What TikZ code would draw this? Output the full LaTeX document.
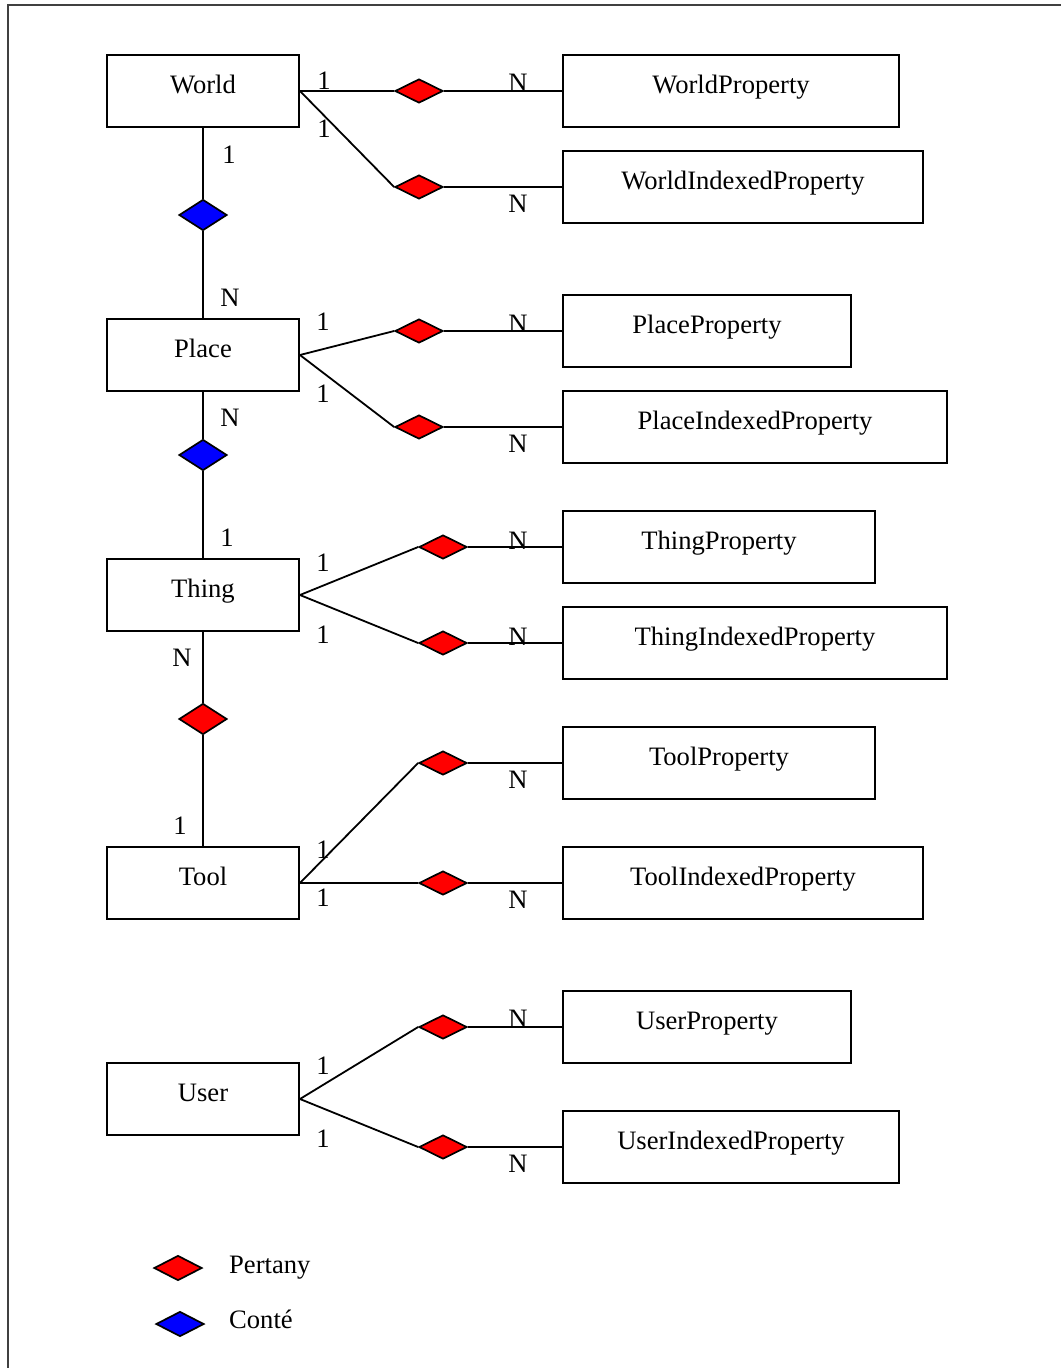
\documentclass[tikz,border=0pt]{standalone}
\usepackage{fontspec}
\setmainfont{Liberation Serif}
\usetikzlibrary{shapes.geometric}

\definecolor{relred}{RGB}{255,0,0}
\definecolor{relblue}{RGB}{0,0,255}

\tikzset{
  entity/.style={draw, line width=1.9pt, rectangle, inner sep=0pt,
    minimum height=72pt, text height=18pt, text depth=14pt,
    font=\fontsize{26.6}{30}\selectfont},
  belongs/.style={draw, line width=1.7pt, diamond, fill=relred, inner sep=0pt,
    minimum width=48pt, minimum height=24pt},
  contains/.style={draw, line width=1.7pt, diamond, fill=relblue, inner sep=0pt,
    minimum width=48pt, minimum height=31pt},
  tallbelongs/.style={belongs, minimum height=31pt},
  card/.style={anchor=base, inner sep=0pt, font=\fontsize{26.6}{30}\selectfont},
  legendtext/.style={anchor=base west, inner sep=0pt, font=\fontsize{26.6}{30}\selectfont},
  link/.style={line width=1.8pt},
}

\begin{document}
\begin{tikzpicture}[x=1pt, y=-1pt]
\useasboundingbox (0,0) rectangle (1061,1368);

% page frame
\draw[line width=2pt, black!75] (8,1368) -- (8,5) -- (1061,5);

% ---------- entities ----------
\node[entity, minimum width=192pt] (world) at (203,91) {World};
\node[entity, minimum width=336pt] (wprop) at (731,91) {WorldProperty};
\node[entity, minimum width=360pt] (wiprop) at (743,187) {WorldIndexedProperty};

\node[entity, minimum width=192pt] (place) at (203,355) {Place};
\node[entity, minimum width=288pt] (pprop) at (707,331) {PlaceProperty};
\node[entity, minimum width=384pt] (piprop) at (755,427) {PlaceIndexedProperty};

\node[entity, minimum width=192pt] (thing) at (203,595) {Thing};
\node[entity, minimum width=312pt] (tprop) at (719,547) {ThingProperty};
\node[entity, minimum width=384pt] (tiprop) at (755,643) {ThingIndexedProperty};

\node[entity, minimum width=192pt] (tool) at (203,883) {Tool};
\node[entity, minimum width=312pt] (toprop) at (719,763) {ToolProperty};
\node[entity, minimum width=360pt] (toiprop) at (743,883) {ToolIndexedProperty};

\node[entity, minimum width=192pt] (user) at (203,1099) {User};
\node[entity, minimum width=288pt] (uprop) at (707,1027) {UserProperty};
\node[entity, minimum width=336pt] (uiprop) at (731,1147) {UserIndexedProperty};

% ---------- relationships ----------
\node[belongs] (rw1) at (419,91) {};
\node[belongs] (rw2) at (419,187) {};
\node[belongs] (rp1) at (419,331) {};
\node[belongs] (rp2) at (419,427) {};
\node[belongs] (rt1) at (443,547) {};
\node[belongs] (rt2) at (443,643) {};
\node[belongs] (ro1) at (443,763) {};
\node[belongs] (ro2) at (443,883) {};
\node[belongs] (ru1) at (443,1027) {};
\node[belongs] (ru2) at (443,1147) {};

\node[contains] (cwp) at (203,215) {};
\node[contains] (cpt) at (203,455) {};
\node[tallbelongs] (rtt) at (203,719) {};

% ---------- connectors ----------
\draw[link] (world.east) -- (rw1.west);  \draw[link] (rw1.east) -- (wprop.west);
\draw[link] (world.east) -- (rw2.west);  \draw[link] (rw2.east) -- (wiprop.west);
\draw[link] (place.east) -- (rp1.west);  \draw[link] (rp1.east) -- (pprop.west);
\draw[link] (place.east) -- (rp2.west);  \draw[link] (rp2.east) -- (piprop.west);
\draw[link] (thing.east) -- (rt1.west);  \draw[link] (rt1.east) -- (tprop.west);
\draw[link] (thing.east) -- (rt2.west);  \draw[link] (rt2.east) -- (tiprop.west);
\draw[link] (tool.east) -- (ro1.west);   \draw[link] (ro1.east) -- (toprop.west);
\draw[link] (tool.east) -- (ro2.west);   \draw[link] (ro2.east) -- (toiprop.west);
\draw[link] (user.east) -- (ru1.west);   \draw[link] (ru1.east) -- (uprop.west);
\draw[link] (user.east) -- (ru2.west);   \draw[link] (ru2.east) -- (uiprop.west);

\draw[link] (world.south) -- (cwp.north); \draw[link] (cwp.south) -- (place.north);
\draw[link] (place.south) -- (cpt.north); \draw[link] (cpt.south) -- (thing.north);
\draw[link] (thing.south) -- (rtt.north); \draw[link] (rtt.south) -- (tool.north);

% ---------- cardinalities ----------
\node[card] (cw1) at (324,89) {1};
\node[card] (cw2) at (324,137) {1};
\node[card] (cw3) at (518,91) {N};
\node[card] (cw4) at (518,212) {N};
\node[card] (cw5) at (229,163) {1};

\node[card] (cp0) at (230,306) {N};
\node[card] (cp1) at (323,330) {1};
\node[card] (cp2) at (323,402) {1};
\node[card] (cp3) at (518,332) {N};
\node[card] (cp4) at (518,452) {N};
\node[card] (cp5) at (230,426) {N};

\node[card] (ct0) at (227,546) {1};
\node[card] (ct1) at (323,571) {1};
\node[card] (ct2) at (323,643) {1};
\node[card] (ct3) at (518,549) {N};
\node[card] (ct4) at (518,645) {N};
\node[card] (ct5) at (182,666) {N};

\node[card] (co0) at (180,834) {1};
\node[card] (co1) at (323,858) {1};
\node[card] (co2) at (323,906) {1};
\node[card] (co3) at (518,788) {N};
\node[card] (co4) at (518,908) {N};

\node[card] (cu1) at (323,1074) {1};
\node[card] (cu2) at (323,1147) {1};
\node[card] (cu3) at (518,1027) {N};
\node[card] (cu4) at (518,1172) {N};

% ---------- legend ----------
\node[belongs, minimum height=25pt] (lgred) at (178,1268) {};
\node[legendtext] (lgredtxt) at (229,1273) {Pertany};
\node[contains, minimum height=25pt] (lgblue) at (180,1324) {};
\node[legendtext] (lgbluetxt) at (229,1328) {Conté};
\end{tikzpicture}
\end{document}
